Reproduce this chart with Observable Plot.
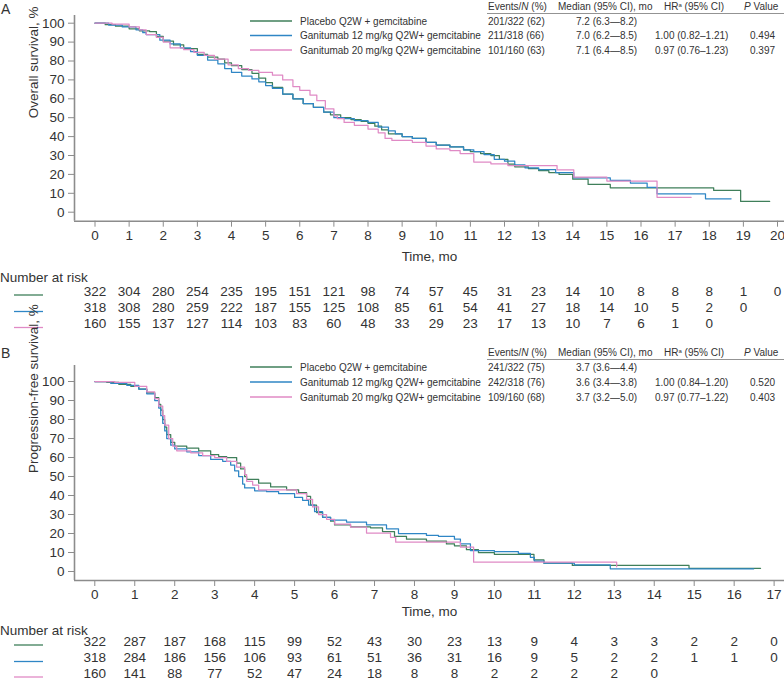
<!DOCTYPE html>
<html><head><meta charset="utf-8">
<script src="https://cdn.jsdelivr.net/npm/d3@7"></script>
<script src="https://cdn.jsdelivr.net/npm/@observablehq/plot@0.6"></script>
<style>
body{margin:0;background:#fff;}
#chart{position:relative;width:784px;height:682px;overflow:hidden;}
#chart svg{position:absolute;left:0;}
</style></head><body><div id="chart"></div>
<script>
// ---------- data ----------
const arms = ["Placebo Q2W + gemcitabine", "Ganitumab 12 mg/kg Q2W+ gemcitabine", "Ganitumab 20 mg/kg Q2W+ gemcitabine"];
const armColors = ["#3f7f5a", "#2f86c5", "#e08ac5"];

const osTicks = [0,1,2,3,4,5,6,7,8,9,10,11,12,13,14,15,16,17,18,19,20];
const pfsTicks = [0,1,2,3,4,5,6,7,8,9,10,11,12,13,14,15,16,17];
const survTicks = [0,10,20,30,40,50,60,70,80,90,100];

// Overall survival (time in months, survival %)
const osPlacebo = [[0,100],[0.3,99.2],[0.6,98.4],[1.0,97],[1.3,96],[1.6,95.6],[1.8,93],[2.0,90.5],[2.3,88.5],[2.6,86.5],[3.0,83.5],[3.3,82],[3.6,81],[3.8,79],[4.0,77.5],[4.3,75.5],[4.6,73.5],[4.8,71],[5.0,68.5],[5.2,66],[5.5,62.5],[5.8,60],[6.1,57.5],[6.4,55.5],[6.7,53],[6.9,51.5],[7.2,50],[7.5,49],[7.8,48],[8.0,47],[8.2,45.5],[8.4,43.5],[8.6,41.5],[9.0,40],[9.3,39],[9.7,37],[10.0,35.5],[10.4,34.5],[10.8,33],[11.0,32],[11.3,31],[11.6,30],[11.85,28],[12.1,25.5],[12.3,24],[12.7,23],[13.0,22],[13.3,21],[13.6,20],[14.0,17.5],[14.45,14.7],[15.1,12.9],[18.13,11.5],[18.92,5.7],[19.77,5.7]];
const os12mg = [[0,100],[0.4,99],[0.8,98],[1.2,96.5],[1.4,95],[1.5,94],[1.9,91],[2.2,89],[2.5,87],[2.8,85],[3.0,83],[3.3,80.5],[3.6,78.5],[3.8,76],[4.0,74],[4.3,72],[4.6,70.5],[4.8,69],[5.0,67],[5.2,65.5],[5.5,62.5],[5.8,60],[6.1,57.5],[6.4,55.5],[6.7,53],[7.0,50],[7.3,49.5],[7.6,48.5],[8.0,47.5],[8.3,45],[8.6,43],[8.8,41.5],[9.0,40],[9.3,39],[9.7,37],[10.0,35.5],[10.4,34.5],[10.8,33],[11.1,32],[11.4,30.5],[11.7,28],[12.0,27],[12.3,25],[12.6,23.5],[13.0,22.5],[13.5,21],[14.03,18.2],[15.1,16.8],[15.69,15.4],[16.18,13.2],[16.47,9.7],[17.89,7.1],[18.64,7.1]];
const os20mg = [[0,100],[0.5,99.5],[1.0,98],[1.3,96.5],[1.5,94],[1.8,92.5],[2.0,90],[2.2,87],[2.6,86],[2.9,84.5],[3.2,83],[3.5,81],[3.9,78],[4.2,76],[4.5,75],[4.8,74],[5.2,72.5],[5.5,70],[5.8,66.5],[6.0,64.5],[6.3,62],[6.5,59],[6.75,54.7],[7.0,51],[7.1,49.5],[7.3,47.5],[7.6,46],[8.0,44],[8.3,42],[8.5,39],[8.7,38],[9.3,37],[9.7,35],[10.0,33.5],[10.4,32.6],[10.7,31],[11.1,26.5],[11.6,25.6],[12.1,24.7],[13.54,22.4],[14.03,18.5],[15.0,16.5],[16.47,7.9],[17.47,7.9]];

// Progression-free survival
const pfsPlacebo = [[0,100],[0.3,99.5],[0.6,98.5],[0.9,97.5],[1.1,96],[1.3,94],[1.5,91.5],[1.6,88],[1.65,85],[1.7,80],[1.75,76],[1.8,72],[1.9,68],[2.0,66],[2.3,65],[2.6,63.5],[2.9,61.5],[3.1,60.5],[3.3,60],[3.55,57],[3.65,54],[3.75,50],[3.8,48.5],[4.1,46.5],[4.4,44.5],[4.8,43],[5.1,41.5],[5.3,39.5],[5.4,35],[5.55,31],[5.7,28.5],[5.9,26.5],[6.0,24.5],[6.4,23.5],[6.9,23],[7.2,21],[7.5,18.5],[7.8,17],[8.3,16],[8.8,14.5],[9.0,13.5],[9.3,11.5],[9.6,10],[10.0,9],[10.99,6.1],[11.24,4.4],[11.95,3.2],[14.87,1.7],[16.66,1.7]];
const pfs12mg = [[0,100],[0.4,99],[0.8,98],[1.1,96],[1.3,93.5],[1.5,90],[1.6,86],[1.65,82],[1.7,78],[1.75,74],[1.8,70],[1.9,66.5],[2.0,64.5],[2.3,63],[2.6,61],[2.9,59],[3.2,58],[3.4,56],[3.5,53],[3.6,50],[3.7,46],[3.75,44],[4.0,42.5],[4.3,42],[4.6,41],[5.0,39],[5.2,37.5],[5.35,35],[5.5,31.5],[5.7,28.5],[5.9,27],[6.3,26],[6.8,24.5],[7.3,22.5],[7.6,20],[8.3,19],[8.6,18.5],[9.0,17],[9.15,14.5],[9.4,11],[10.0,10.5],[10.6,9.5],[10.9,7.5],[11.0,5.5],[11.24,4.4],[12.0,3.5],[12.9,1.4],[16.49,1.4]];
const pfs20mg = [[0,100],[0.5,99.5],[1.0,97.5],[1.3,94.5],[1.5,91],[1.6,87],[1.7,82],[1.75,77],[1.85,70],[1.95,66],[2.05,63.5],[2.4,62.5],[2.7,61],[3.0,60],[3.3,58],[3.55,55],[3.75,51],[3.8,47.5],[3.95,45.5],[4.1,43],[5.05,41],[5.3,38],[5.45,34],[5.6,30],[5.8,27.5],[6.0,25],[6.4,23.3],[6.8,20.2],[7.4,18],[7.53,15.4],[9.15,12.8],[9.48,4.9],[13.06,2.5]];

// Number at risk
const osRiskPlacebo = [322,304,280,254,235,195,151,121,98,74,57,45,31,23,14,10,8,8,8,1,0];
const osRisk12mg   = [318,308,280,259,222,187,155,125,108,85,61,54,41,27,18,14,10,5,2,0];
const osRisk20mg   = [160,155,137,127,114,103,83,60,48,33,29,23,17,13,10,7,6,1,0];
const pfsRiskPlacebo = [322,287,187,168,115,99,52,43,30,23,13,9,4,3,3,2,2,0];
const pfsRisk12mg    = [318,284,186,156,106,93,61,51,36,31,16,9,5,2,2,1,1,0];
const pfsRisk20mg    = [160,141,88,77,52,47,24,18,8,8,2,2,2,2,0];

// Legend tables
const osEvents = ["201/322 (62)", "211/318 (66)", "101/160 (63)"];
const osMedian = ["7.2 (6.3\u20148.2)", "7.0 (6.2\u20148.5)", "7.1 (6.4\u20148.5)"];
const osHR = ["", "1.00 (0.82\u20131.21)", "0.97 (0.76\u20131.23)"];
const osP = ["", "0.494", "0.397"];
const pfsEvents = ["241/322 (75)", "242/318 (76)", "109/160 (68)"];
const pfsMedian = ["3.7 (3.6\u20144.4)", "3.6 (3.4\u20143.8)", "3.7 (3.2\u20145.0)"];
const pfsHR = ["", "1.00 (0.84\u20131.20)", "0.97 (0.77\u20131.22)"];
const pfsP = ["", "0.520", "0.403"];

// ---------- drawing ----------
const FONT = "Liberation Sans, Arial, Helvetica, sans-serif";
const NARROW = "Liberation Sans Narrow, Arial Narrow, Liberation Sans, Arial, sans-serif";
const TXT = "#333";
const AXC = "#8c8c8c";

function panel(o) {
  const H = o.height;
  const left = 74, right = 784;
  const xDom = [(left - o.xZero) / o.xUnit, (right - o.xZero) / o.xUnit];
  const yDom = [(o.yZero - o.axisY) / o.yUnit, (o.yZero - o.top) / o.yUnit];
  const curves = o.series.map((s, k) =>
    Plot.line(s.map(([t, v]) => ({t, v, arm: arms[k]})),
      {x: "t", y: "v", curve: "step-after", stroke: armColors[k], strokeWidth: 1.25}));
  const risk = o.risk.map((arr, k) =>
    Plot.text(arr.map((n, i) => ({t: o.ticks[i], n})),
      {x: "t", text: d => String(d.n), frameAnchor: "bottom", dy: o.riskY[k] - o.axisY,
       fontSize: 13.5, fontFamily: NARROW, fill: TXT}));
  const svg = Plot.plot({
    width: 784, height: H,
    marginLeft: left, marginRight: 0, marginTop: o.top, marginBottom: H - o.axisY,
    x: {domain: xDom}, y: {domain: yDom},
    style: {fontFamily: FONT, fontSize: "13.5px", color: TXT, background: "transparent", overflow: "visible"},
    marks: [
      Plot.axisX({ticks: o.ticks, tickSize: 6, tickPadding: 3, label: null, stroke: AXC, fill: TXT, tickFormat: d => String(d), fontSize: 13.5}),
      Plot.axisY({ticks: survTicks, tickSize: 6, tickPadding: 4, label: null, stroke: AXC, fill: TXT, tickFormat: d => String(d), fontSize: 13.5}),
      Plot.ruleY([yDom[0]], {stroke: AXC, strokeWidth: 1.6}),
      Plot.ruleX([xDom[0]], {stroke: AXC, strokeWidth: 1.6}),
      ...curves,
      ...risk,
      Plot.text([o.xLabel], {text: d => d, frameAnchor: "bottom", dy: o.xLabelY - o.axisY, fontSize: 13.5, fill: TXT}),
      Plot.text([o.yLabel], {text: d => d, frameAnchor: "left", dx: 33 - left, rotate: -90, fontSize: 13.5, fill: TXT})
    ]
  });
  svg.style.top = o.offset + "px";

  const s = d3.select(svg);
  const g = s.append("g").attr("font-family", FONT).attr("fill", TXT).attr("text-anchor", "start");
  g.append("text").attr("x", 1).attr("y", o.letterY).attr("dy", "0.35em").attr("font-size", 14).text(o.letter);
  g.append("text").attr("x", 0).attr("y", o.narY).attr("dy", "0.35em").attr("font-size", 13.5).text("Number at risk");
  o.riskY.forEach((y, k) => g.append("line").attr("x1", 14).attr("x2", 43).attr("y1", y).attr("y2", y)
    .attr("stroke", armColors[k]).attr("stroke-width", 1.3));

  // legend table
  const L = g.append("g").attr("font-size", 10);
  const cols = {events: 488, medH: 558, med: 576, hrH: 664, hr: 655, pH: 744, p: 750};
  const hy = o.legendY[0];
  const h1 = L.append("text").attr("x", cols.events).attr("y", hy).attr("dy", "0.35em");
  h1.append("tspan").text("Events/");
  h1.append("tspan").attr("font-style", "italic").text("N");
  h1.append("tspan").text(" (%)");
  L.append("text").attr("x", cols.medH).attr("y", hy).attr("dy", "0.35em").text("Median (95% CI), mo");
  const h3 = L.append("text").attr("x", cols.hrH).attr("y", hy).attr("dy", "0.35em");
  h3.append("tspan").text("HR");
  h3.append("tspan").attr("font-size", 6).attr("dy", -3).text("a");
  h3.append("tspan").attr("dy", 3).text(" (95% CI)");
  const h4 = L.append("text").attr("x", cols.pH).attr("y", hy).attr("dy", "0.35em");
  h4.append("tspan").attr("font-style", "italic").text("P");
  h4.append("tspan").text(" Value");
  L.append("line").attr("x1", cols.events - 1).attr("x2", 784).attr("y1", hy + 7.5).attr("y2", hy + 7.5)
    .attr("stroke", "#777").attr("stroke-width", 0.8);
  arms.forEach((name, k) => {
    const y = o.legendY[k + 1];
    L.append("line").attr("x1", 250).attr("x2", 292).attr("y1", y).attr("y2", y)
      .attr("stroke", armColors[k]).attr("stroke-width", 1.3);
    L.append("text").attr("x", 300).attr("y", y).attr("dy", "0.35em").text(name);
    L.append("text").attr("x", cols.events).attr("y", y).attr("dy", "0.35em").text(o.events[k]);
    L.append("text").attr("x", cols.med).attr("y", y).attr("dy", "0.35em").text(o.median[k]);
    L.append("text").attr("x", cols.hr).attr("y", y).attr("dy", "0.35em").text(o.hr[k]);
    L.append("text").attr("x", cols.p).attr("y", y).attr("dy", "0.35em").text(o.p[k]);
  });
  return svg;
}

const chart = document.getElementById("chart");
chart.appendChild(panel({
  offset: 0, height: 342, letter: "A", letterY: 9,
  xZero: 94.5, xUnit: 34.125, yZero: 211.7, yUnit: 1.89, top: 15, axisY: 220.7,
  ticks: osTicks, series: [osPlacebo, os12mg, os20mg],
  risk: [osRiskPlacebo, osRisk12mg, osRisk20mg], riskY: [295, 311.5, 327.5], narY: 277,
  xLabel: "Time, mo", xLabelY: 260.5, yLabel: "Overall survival, %",
  legendY: [6, 21, 35.5, 50],
  events: osEvents, median: osMedian, hr: osHR, p: osP
}));
chart.appendChild(panel({
  offset: 342, height: 340, letter: "B", letterY: 11,
  xZero: 94.3, xUnit: 39.96, yZero: 229, yUnit: 1.9, top: 23, axisY: 238,
  ticks: pfsTicks, series: [pfsPlacebo, pfs12mg, pfs20mg],
  risk: [pfsRiskPlacebo, pfsRisk12mg, pfsRisk20mg], riskY: [303, 319.5, 335], narY: 288,
  xLabel: "Time, mo", xLabelY: 273, yLabel: "Progression-free survival, %",
  legendY: [10, 25, 40, 55],
  events: pfsEvents, median: pfsMedian, hr: pfsHR, p: pfsP
}));
</script></body></html>
